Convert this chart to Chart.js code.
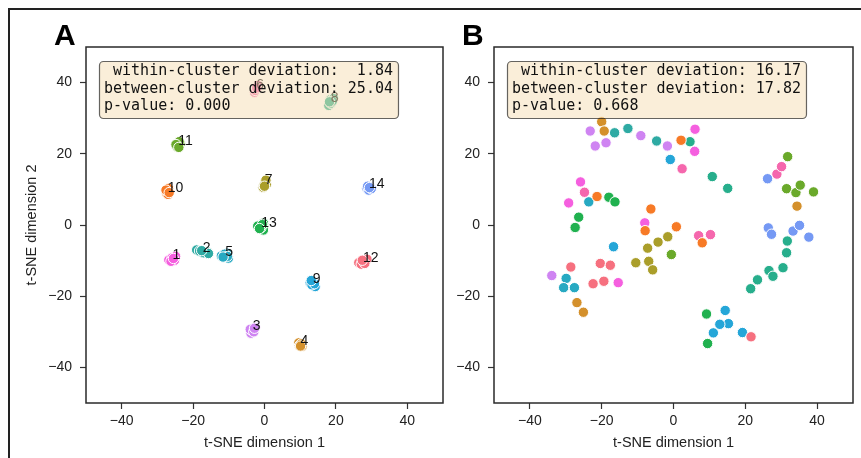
<!DOCTYPE html>
<html>
<head>
<meta charset="utf-8">
<script src="https://cdn.jsdelivr.net/npm/chart.js@4.4.1/dist/chart.umd.min.js"></script>
<style>
html, body { margin: 0; padding: 0; background: #fff; overflow: hidden; }
#wrap { position: relative; width: 861px; height: 458px; overflow: hidden; }
#frame { position: absolute; left: 8px; top: 8px; width: 900px; height: 500px; border: 2px solid #222; }
#chartA { position: absolute; left: 0; top: 0; }
#chartB { position: absolute; left: 450px; top: 0; }
</style>
</head>
<body>
<div id="wrap">
  <div id="frame"></div>
  <canvas id="chartA" width="450" height="458"></canvas>
  <canvas id="chartB" width="411" height="458"></canvas>
</div>
<script>
// cluster ids and their colours (same order in both panels)
var clusterNames = ['1', '2', '3', '4', '5', '6', '7', '8', '9', '10', '11', '12', '13', '14'];
var clusterColors = ['#f55fdf', '#2eaaa3', '#cf84f2', '#d4902b', '#27a9c2', '#f567ad', '#aa9e2a',
                     '#27ae8c', '#25a6d8', '#f77a26', '#6aa92a', '#f6707f', '#20b14f', '#7599f4'];

var xTicks = [-40, -20, 0, 20, 40];
var yTicks = [-40, -20, 0, 20, 40];

var statsA = [' within-cluster deviation:  1.84', 'between-cluster deviation: 25.04', 'p-value: 0.000'];
var statsB = [' within-cluster deviation: 16.17', 'between-cluster deviation: 17.82', 'p-value: 0.668'];

// panel A: points of each cluster, one line per cluster
var panelA = [
  [[-26.8, -9.8], [-25.9, -9.2], [-25.2, -9.9], [-24.9, -8.8], [-26.2, -10.2], [-25.5, -9.4]],
  [[-19.0, -7.0], [-18.2, -7.3], [-17.1, -7.8], [-16.0, -7.6], [-15.7, -8.0], [-17.6, -7.2]],
  [[-3.8, -30.4], [-3.5, -29.6], [-2.6, -28.8], [-4.0, -29.3], [-3.0, -30.0], [-2.8, -29.0]],
  [[9.6, -33.1], [10.0, -33.7], [10.5, -34.1], [9.8, -33.9], [10.3, -33.4], [10.1, -34.0]],
  [[-12.1, -8.7], [-10.5, -7.9], [-10.1, -9.3], [-11.2, -8.2], [-10.4, -8.8], [-11.6, -9.0]],
  [[-2.8, 37.3], [-2.4, 38.2], [-2.0, 38.8], [-2.6, 37.8], [-1.8, 39.2], [-2.2, 38.5]],
  [[-0.4, 10.6], [0.2, 12.1], [0.5, 11.4], [-0.2, 11.0], [0.4, 12.6], [0.0, 10.9]],
  [[18.0, 33.6], [18.4, 35.2], [19.3, 35.5], [18.6, 34.2], [19.0, 34.8], [18.2, 34.6]],
  [[12.8, -16.2], [14.2, -17.3], [13.7, -15.9], [13.3, -16.8], [14.0, -16.5], [13.1, -15.6]],
  [[-27.4, 8.9], [-26.9, 10.3], [-27.2, 9.4], [-27.0, 8.6], [-27.6, 9.8], [-26.7, 9.1]],
  [[-24.6, 22.0], [-23.6, 22.9], [-24.2, 22.4], [-23.9, 23.4], [-24.8, 22.6], [-24.0, 21.8]],
  [[26.4, -10.6], [27.8, -10.3], [28.7, -9.6], [27.1, -11.0], [28.1, -10.8], [27.4, -9.9]],
  [[-1.9, -0.3], [-0.3, 0.5], [-0.3, -1.4], [-1.0, -0.8], [-0.6, 0.1], [-1.4, -1.0]],
  [[28.7, 10.3], [29.6, 10.7], [29.2, 9.8], [29.9, 10.2], [28.9, 10.9], [29.4, 10.5]]
];

// panel B: same clusters, shuffled embedding
var panelB = [
  [[6.0, 26.9], [5.9, 20.7], [-29.2, 6.2], [-25.9, 12.1], [-8.0, 0.6], [-15.4, -16.2]],
  [[-16.4, 25.9], [-12.7, 27.1], [-4.7, 23.6]],
  [[-23.2, 26.4], [-21.8, 22.2], [-18.8, 23.1], [-9.1, 25.1], [-1.7, 22.2], [-33.9, -14.2]],
  [[-20.0, 29.0], [-19.3, 26.4], [34.4, 5.3], [-26.9, -21.8], [-25.1, -24.5]],
  [[-23.6, 6.5], [-29.9, -15.0], [-30.6, -17.6], [-27.6, -17.6]],
  [[2.4, 15.8], [28.8, 14.3], [30.1, 16.4], [-24.8, 9.2], [7.0, -3.0], [10.3, -2.7]],
  [[-7.2, -6.5], [-4.3, -4.8], [-1.6, -3.3], [-10.5, -10.6], [-6.9, -10.2], [-5.8, -12.6]],
  [[4.6, 23.4], [10.8, 13.6], [15.1, 10.3], [31.7, -4.5], [31.5, -7.8], [30.5, -12.0],
   [26.6, -12.8], [27.7, -14.4], [23.4, -15.4], [21.5, -17.9]],
  [[-0.9, 18.4], [-16.7, -6.1], [14.4, -24.0], [15.3, -27.7], [12.9, -27.9], [11.1, -30.3], [19.2, -30.2]],
  [[2.1, 23.8], [-21.3, 8.0], [-6.3, 4.5], [-7.9, -1.6], [0.8, -0.5], [8.0, -5.0]],
  [[31.8, 19.2], [31.5, 10.2], [34.1, 9.1], [35.3, 11.2], [39.0, 9.3], [-0.6, -8.3]],
  [[-20.4, -10.8], [-17.6, -11.3], [-28.6, -11.8], [-22.4, -16.5], [-19.4, -15.8], [21.6, -31.4]],
  [[-18.0, 7.8], [-16.3, 6.5], [-26.4, 2.2], [-27.4, -0.7], [9.2, -25.0], [9.5, -33.3]],
  [[26.2, 13.0], [26.4, -0.8], [27.3, -2.6], [33.3, -1.7], [35.1, -0.1], [37.7, -3.4]]
];

var sansFont = '"Liberation Sans", Arial, Helvetica, sans-serif';

function flatten(groups) {
  var pts = [], cols = [];
  groups.forEach(function (g, i) {
    g.forEach(function (p) {
      pts.push({ x: p[0], y: p[1] });
      cols.push(clusterColors[i]);
    });
  });
  return { pts: pts, cols: cols };
}

// matplotlib style minus sign
function minusSign(v) {
  return v < 0 ? '\u2212' + Math.abs(v) : '' + v;
}

function roundBox(ctx, x, y, w, h, r) {
  ctx.beginPath();
  ctx.moveTo(x + r, y);
  ctx.arcTo(x + w, y, x + w, y + h, r);
  ctx.arcTo(x + w, y + h, x, y + h, r);
  ctx.arcTo(x, y + h, x, y, r);
  ctx.arcTo(x, y, x + w, y, r);
  ctx.closePath();
}

// cluster numbers, stats box, axes frame and panel letter
var decor = {
  id: 'decor',
  afterDatasetsDraw: function (chart, args, opts) {
    var ctx = chart.ctx, area = chart.chartArea;
    var sx = chart.scales.x, sy = chart.scales.y;
    ctx.save();
    if (opts.numbers) {
      ctx.font = '14px ' + sansFont;
      ctx.fillStyle = '#111';
      ctx.textAlign = 'left';
      ctx.textBaseline = 'alphabetic';
      opts.groups.forEach(function (g, i) {
        var mx = 0, my = 0;
        g.forEach(function (p) { mx += p[0]; my += p[1]; });
        mx /= g.length;
        my /= g.length;
        ctx.fillText(clusterNames[i], sx.getPixelForValue(mx), sy.getPixelForValue(my));
      });
    }
    ctx.font = '15px "DejaVu Sans Mono", monospace';
    var w = 0;
    opts.stats.forEach(function (s) { w = Math.max(w, ctx.measureText(s).width); });
    var bx = area.left + 13, by = area.top + 14, bw = w + 10, bh = 57;
    roundBox(ctx, bx + 0.5, by + 0.5, bw, bh, 4);
    ctx.fillStyle = 'rgba(245,222,179,0.5)';
    ctx.fill();
    ctx.strokeStyle = 'rgba(0,0,0,0.6)';
    ctx.lineWidth = 1.2;
    ctx.stroke();
    ctx.fillStyle = '#111';
    ctx.textAlign = 'left';
    ctx.textBaseline = 'middle';
    opts.stats.forEach(function (s, i) {
      ctx.fillText(s, bx + 5, by + 10.5 + i * 17.5);
    });
    ctx.restore();
  },
  afterDraw: function (chart, args, opts) {
    var ctx = chart.ctx, area = chart.chartArea;
    ctx.save();
    ctx.strokeStyle = '#2a2a2a';
    ctx.lineWidth = 1.5;
    ctx.strokeRect(area.left, area.top, area.right - area.left, area.bottom - area.top);
    ctx.font = 'bold 30px ' + sansFont;
    ctx.fillStyle = '#000';
    ctx.textAlign = 'left';
    ctx.textBaseline = 'alphabetic';
    ctx.fillText(opts.letter, area.left - 32, 45);
    ctx.restore();
  }
};

function makePanel(id, groups, stats, letter, numbers, yTitle, yWidth, padRight) {
  var d = flatten(groups);
  return new Chart(document.getElementById(id), {
    type: 'scatter',
    data: {
      datasets: [{
        data: d.pts,
        pointBackgroundColor: d.cols,
        pointBorderColor: '#ffffff',
        pointBorderWidth: 1,
        pointRadius: 5.2,
        pointHoverRadius: 5.2
      }]
    },
    options: {
      responsive: false,
      animation: false,
      events: [],
      layout: { padding: { top: 47, right: padRight, left: 0, bottom: 0 } },
      plugins: {
        legend: { display: false },
        tooltip: { enabled: false },
        decor: { groups: groups, stats: stats, letter: letter, numbers: numbers }
      },
      scales: {
        x: {
          type: 'linear', min: -50, max: 50,
          afterBuildTicks: function (s) { s.ticks = xTicks.map(function (v) { return { value: v }; }); },
          afterFit: function (s) { s.height = 55; },
          grid: { drawOnChartArea: false, drawTicks: true, tickLength: 6, tickColor: '#333', tickWidth: 1.2 },
          border: { display: false },
          ticks: { font: { family: sansFont, size: 14 }, color: '#222', padding: 4, maxRotation: 0, callback: minusSign },
          title: { display: true, text: 't-SNE dimension 1', color: '#222',
                   font: { family: sansFont, size: 14.5 }, padding: { top: 0, bottom: 6 } }
        },
        y: {
          type: 'linear', min: -50, max: 50,
          afterBuildTicks: function (s) { s.ticks = yTicks.map(function (v) { return { value: v }; }); },
          afterFit: function (s) { s.width = yWidth; },
          grid: { drawOnChartArea: false, drawTicks: true, tickLength: 6, tickColor: '#333', tickWidth: 1.2 },
          border: { display: false },
          ticks: { font: { family: sansFont, size: 14 }, color: '#222', padding: 8, callback: minusSign },
          title: { display: !!yTitle, text: yTitle || '', color: '#222',
                   font: { family: sansFont, size: 14.5 }, padding: { top: 23, bottom: 0 } }
        }
      }
    },
    plugins: [decor]
  });
}

makePanel('chartA', panelA, statsA, 'A', true, 't-SNE dimension 2', 86, 7);
makePanel('chartB', panelB, statsB, 'B', false, '', 44, 8);
</script>
</body>
</html>
